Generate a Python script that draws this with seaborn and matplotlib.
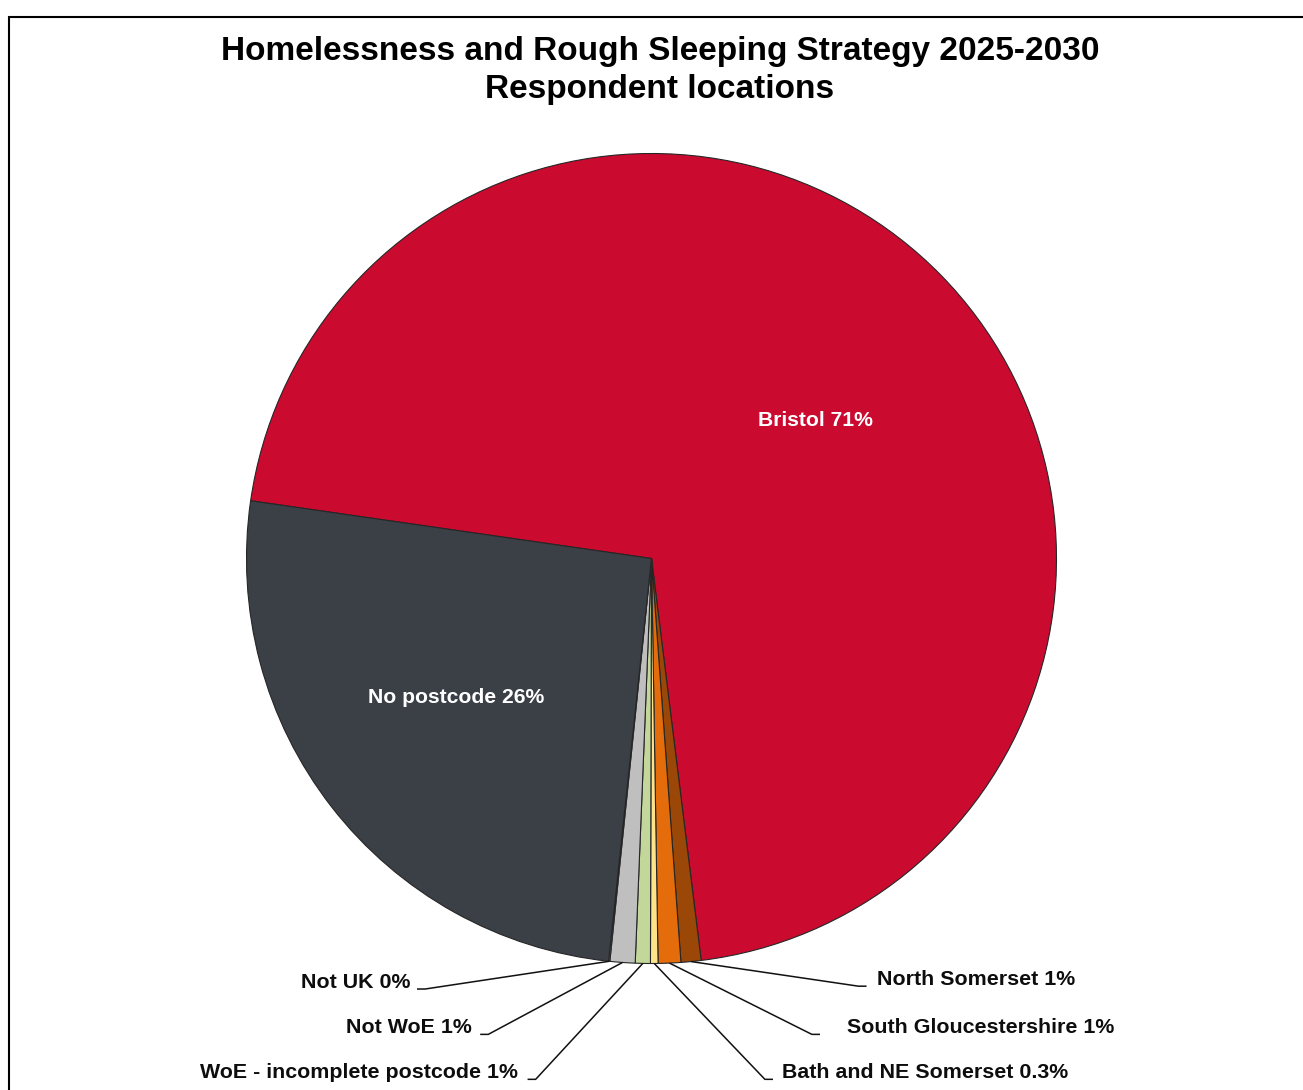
import matplotlib
matplotlib.use("Agg")
import matplotlib.pyplot as plt
from matplotlib.patches import Rectangle
import numpy as np
import seaborn as sns

# Respondent locations (share of responses, %), in clockwise drawing order
categories = ["Bristol", "North Somerset", "South Gloucestershire",
              "Bath and NE Somerset", "WoE - incomplete postcode", "Not WoE",
              "Not UK", "No postcode"]
shares = [70.8, 0.8, 0.9, 0.3, 0.6, 1.0, 0.05, 25.6]
decimals = [0, 0, 0, 1, 0, 0, 0, 0]
colors = ["#CB0A30", "#9A4708", "#E46C0A", "#FFE38A", "#C4D79B", "#BFBFBF",
          "#D9D9D9", "#3B3F46"]

title_lines = ["Homelessness and Rough Sleeping Strategy 2025-2030",
               "Respondent locations"]

sns.set_theme(style="white")
plt.rcParams["font.family"] = ["Liberation Sans", "DejaVu Sans"]

W, H = 1303, 1090
fig = plt.figure(figsize=(W / 100, H / 100), dpi=100, facecolor="white")

# pie area: centre (651.5, 558.5) px, radius 405 px
cx, cy, r = 651.5, 558.5, 405
ax = fig.add_axes([(cx - r) / W, (H - cy - r) / H, 2 * r / W, 2 * r / H])

wedges, _ = ax.pie(shares, colors=colors, startangle=171.8, counterclock=False,
                   radius=1.0,
                   wedgeprops=dict(edgecolor="#262626", linewidth=0.8))
ax.set_xlim(-1, 1)
ax.set_ylim(-1, 1)
ax.set_aspect("equal")
ax.axis("off")

labels = [f"{c} {v:.{d}f}%" for c, v, d in zip(categories, shares, decimals)]

# labels drawn inside the two large slices
inside = {"Bristol": (0.406, 0.340), "No postcode": (-0.483, -0.342)}
for lab, cat in zip(labels, categories):
    if cat in inside:
        x, y = inside[cat]
        ax.text(x, y, lab, ha="center", va="center", color="white",
                fontsize=15.2, fontweight="bold")

# outside labels with leader lines: (text x, baseline y, side, gap to line end)
outside = {
    "North Somerset": (0.558, -1.053, 1, 0.027),
    "South Gloucestershire": (0.482, -1.172, 1, 0.066),
    "Bath and NE Somerset": (0.322, -1.283, 1, 0.022),
    "Not UK": (-0.594, -1.060, -1, 0.015),
    "Not WoE": (-0.443, -1.172, -1, 0.020),
    "WoE - incomplete postcode": (-0.330, -1.283, -1, 0.024),
}
stub = 0.02
for w, lab, cat in zip(wedges, labels, categories):
    if cat not in outside:
        continue
    tx, ty, side, gap = outside[cat]
    mid = np.deg2rad((w.theta1 + w.theta2) / 2)
    sx, sy = np.cos(mid), np.sin(mid)
    ex = tx - side * gap
    ey = ty - 0.003
    ax.plot([sx, ex - side * stub, ex], [sy, ey, ey], color="#111111",
            linewidth=1.1, clip_on=False, solid_capstyle="butt")
    ax.text(tx, ty, lab, ha="left" if side > 0 else "right", va="baseline",
            fontsize=15.4, fontweight="bold", color="#0d0d0d", clip_on=False)

# title
fig.text(660 / W, 1 - 60 / H, title_lines[0], ha="center", va="baseline",
         fontsize=24, fontweight="bold", color="black")
fig.text(660 / W, 1 - 98 / H, title_lines[1], ha="center", va="baseline",
         fontsize=24, fontweight="bold", color="black")

# chart frame
fig.add_artist(Rectangle((8.5 / W, -0.05), 1.2, 1 - 16.5 / H + 0.05,
                         transform=fig.transFigure, fill=False,
                         edgecolor="black", linewidth=1.5))

fig.savefig("out.png", dpi=100, facecolor="white")
